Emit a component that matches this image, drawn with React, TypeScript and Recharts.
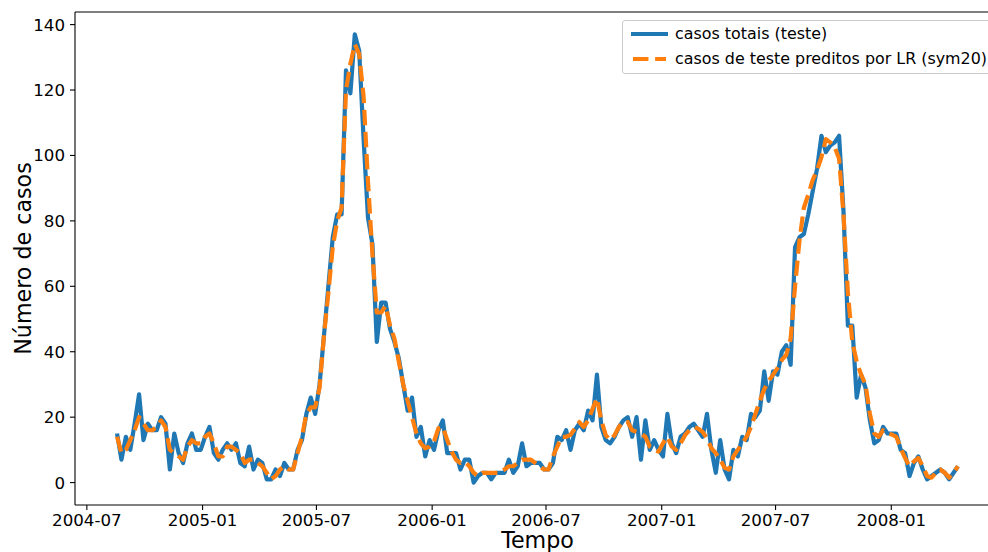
import React from 'react'
import { LineChart, Line, XAxis, YAxis, Legend, Label, ReferenceLine } from 'recharts'

// semana inicial da série (dados semanais)
const START_WEEK = '2004-08-18'

const casosTotais = [
  15, 7, 14, 10, 18, 27, 13, 18, 16, 16, 20, 18, 4, 15, 9, 6, 12,
  15, 10, 10, 14, 17, 9, 7, 10, 12, 10, 12, 6, 5, 11, 4, 7, 6,
  1, 1, 4, 2, 6, 4, 4, 10, 13, 21, 26, 21, 30,
  45, 60, 75, 82, 82, 126, 119, 137, 132, 105, 81, 73, 43, 55, 55, 47, 43,
  38, 30, 22, 26, 14, 17, 8, 13, 10, 16, 19, 9, 9, 9, 4, 7, 7, 0,
  2, 3, 3, 1, 3, 3, 3, 7, 3, 5, 12, 5, 6, 6, 6, 4, 4, 6, 14,
  13, 16, 10, 16, 18, 16, 22, 19, 33, 17, 13, 12, 14, 17, 19, 20, 14, 20,
  7, 19, 10, 13, 10, 8, 21, 12, 9, 14, 15, 17, 18, 16, 14, 21, 10, 3,
  13, 4, 1, 10, 8, 14, 13, 21, 20, 22, 34, 25, 34, 33, 40, 42, 36,
  72, 75, 76, 82, 89, 96, 106, 101, 103, 104, 106, 83, 48, 48, 26, 33,
  29, 19, 12, 13, 17, 15, 15, 15, 10, 9, 2, 6, 8, 4, 1, 2, 3, 4, 3, 1, 3, 5,
]

const casosPreditos = [
  14, 9, 10, 13, 16, 20, 18, 16, 16, 17, 19, 17, 10, 9, 8, 7, 11,
  13, 12, 12, 14, 15, 12, 8, 8, 11, 11, 10, 9, 6, 7, 7, 6, 5,
  3, 1, 2, 4, 5, 4, 4, 9, 14, 21, 23, 23, 29,
  45, 58, 72, 80, 84, 120, 128, 134, 131, 118, 92, 70, 52, 52, 54, 48, 44,
  37, 30, 25, 20, 15, 12, 10.5, 11, 12.6, 16.6, 17, 13, 9.5, 7, 6, 6.4, 5, 3,
  2, 3, 3, 3, 3, 3, 4, 5, 5, 6, 7, 7, 7, 6, 5, 4, 4, 8, 11,
  14, 14, 14.6, 16.5, 18.5, 17, 19, 22.5, 25.8, 19, 14.5, 13, 14.5, 17, 18.7, 18.5, 16, 15.5,
  15, 14, 11, 10, 9.5, 12, 14, 11, 10, 12, 14.5, 16, 17, 16.5, 15.5, 13.5, 10.5, 9,
  7, 4.5, 4, 8, 10, 12, 14, 17, 21, 25, 28.5, 31, 33, 35, 37.5, 39, 44,
  60, 74, 84, 88, 92.5, 95.5, 99.5, 105, 104, 102.5, 99, 82, 58, 43, 37, 33,
  30, 21, 15, 14, 16, 15, 14.7, 14, 10.5, 7.5, 5, 6.5, 7.5, 5, 2, 1.5, 3, 4, 3, 1.5, 3, 5,
]

const TICK_MONTHS = ['2004-07', '2005-01', '2005-07', '2006-01', '2006-07', '2007-01', '2007-07', '2008-01']
const Y_TICKS = [0, 20, 40, 60, 80, 100, 120, 140]

const SERIES = [
  { key: 'total', label: 'casos totais (teste)', color: '#1f77b4', dash: undefined },
  { key: 'pred', label: 'casos de teste preditos por LR (sym20)', color: '#ff7f0e', dash: '15.4 6.7' },
]

const FONT = '"DejaVu Sans", sans-serif'
const DAY = 86400000

const t0 = Date.parse(START_WEEK + 'T00:00:00Z')
const data = casosTotais.map((v, i) => ({ t: t0 + i * 7 * DAY, total: v, pred: casosPreditos[i] }))

// margens de 5% como no matplotlib
const tMin = data[0].t
const tMax = data[data.length - 1].t
const xPad = (tMax - tMin) * 0.05
const X_DOMAIN = [tMin - xPad, tMax + xPad]
const X_TICKS = TICK_MONTHS.map(m => Date.parse(m + '-01T00:00:00Z'))

const yMax = Math.max(...casosTotais, ...casosPreditos)
const Y_DOMAIN = [-yMax * 0.05, yMax * 1.05]

const fmtMonth = (t: number) => {
  const d = new Date(t)
  return `${d.getUTCFullYear()}-${String(d.getUTCMonth() + 1).padStart(2, '0')}`
}

const tickStyle = { fill: '#000', fontSize: 16.67, fontFamily: FONT }

function renderLegend() {
  return (
    <div
      style={{
        border: '1px solid #cccccc',
        borderRadius: 3,
        background: 'rgba(255,255,255,0.8)',
        padding: '0 0 2px 0',
        fontFamily: FONT,
        fontSize: 15.9,
        color: '#000',
      }}
    >
      {SERIES.map(s => (
        <div key={s.key} style={{ display: 'flex', alignItems: 'center', height: 25, paddingLeft: 5, whiteSpace: 'nowrap' }}>
          <svg width={40} height={10} style={{ marginRight: 7, flexShrink: 0 }}>
            <line
              x1={s.dash ? 5 : 3}
              x2={s.dash ? 38 : 40}
              y1={5}
              y2={5}
              stroke={s.color}
              strokeWidth={4.2}
              strokeDasharray={s.dash}
            />
          </svg>
          <span>{s.label}</span>
        </div>
      ))}
    </div>
  )
}

export default function App() {
  return (
    <div style={{ position: 'absolute', left: 0, top: 0, width: 988, height: 552, overflow: 'hidden', background: '#fff' }}>
      <LineChart width={1010} height={552} data={data} margin={{ top: 12, right: 10, bottom: 0, left: 0 }} style={{ fontFamily: FONT }}>
        <XAxis
          dataKey="t"
          type="number"
          domain={X_DOMAIN}
          allowDataOverflow
          ticks={X_TICKS}
          interval={0}
          tickFormatter={fmtMonth}
          height={47}
          stroke="#000"
          strokeWidth={1.1}
          tick={tickStyle}
          tickSize={5}
          tickMargin={4}
        >
          <Label
            content={() => (
              <text x={537.5} y={548} textAnchor="middle" fontSize={22.2} fontFamily={FONT} fill="#000">
                Tempo
              </text>
            )}
          />
        </XAxis>
        <YAxis
          type="number"
          domain={Y_DOMAIN}
          allowDataOverflow
          ticks={Y_TICKS}
          interval={0}
          width={75}
          stroke="#000"
          strokeWidth={1.1}
          tick={tickStyle}
          tickSize={5}
          tickMargin={5}
        >
          <Label
            content={() => (
              <text
                x={31}
                y={258.5}
                transform="rotate(-90 31 258.5)"
                textAnchor="middle"
                fontSize={22.2}
                fontFamily={FONT}
                fill="#000"
              >
                Número de casos
              </text>
            )}
          />
        </YAxis>
        {/* moldura superior do eixo */}
        <ReferenceLine y={Y_DOMAIN[1]} stroke="#000" strokeWidth={1.1} ifOverflow="visible" />
        <Legend
          layout="horizontal"
          verticalAlign="middle"
          align="center"
          content={renderLegend}
          wrapperStyle={{ left: 622, top: 20, width: 372, height: 'auto' }}
        />
        {SERIES.map(s => (
          <Line
            key={s.key}
            type="linear"
            dataKey={s.key}
            stroke={s.color}
            strokeWidth={4.2}
            strokeDasharray={s.dash}
            strokeLinejoin="round"
            dot={false}
            activeDot={false}
            isAnimationActive={false}
          />
        ))}
      </LineChart>
    </div>
  )
}
